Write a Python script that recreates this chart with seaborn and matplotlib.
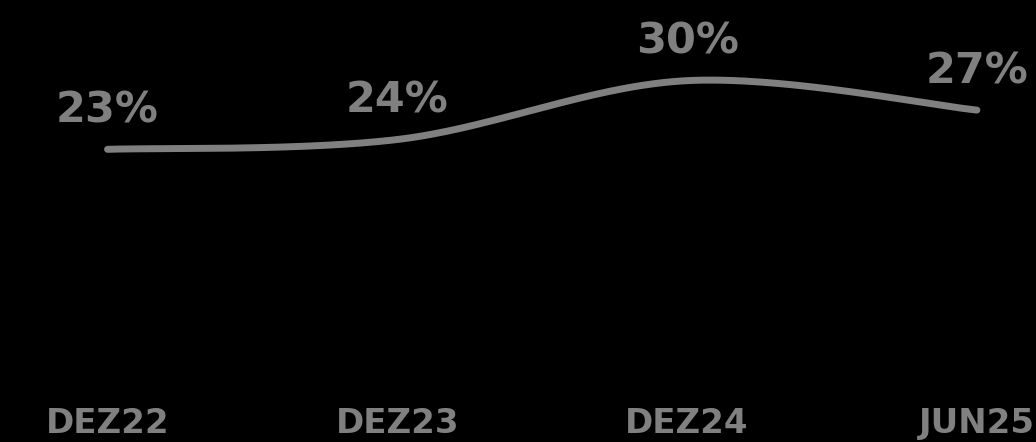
import numpy as np
import pandas as pd
import matplotlib
matplotlib.use('Agg')
import matplotlib.pyplot as plt
import seaborn as sns

periods = ['DEZ22', 'DEZ23', 'DEZ24', 'JUN25']
values = [23, 24, 30, 27]
value_labels = ['23%', '24%', '30%', '27%']

grey = '#808080'

sns.set_theme(style='white', rc={'figure.facecolor': 'black',
                                 'axes.facecolor': 'black'})
plt.rcParams['font.family'] = ['DejaVu Sans']

fig = plt.figure(figsize=(10.36, 4.42), dpi=100)
ax = fig.add_axes([0, 37 / 442, 1, 405 / 442])


def smooth_curve(xs, ys, n=60):
    # excel-style smoothed line: catmull-rom segments drawn as cubic beziers
    pts = np.column_stack([xs, ys]).astype(float)
    padded = np.vstack([pts[0], pts, pts[-1]])
    out = []
    t = np.linspace(0, 1, n)[:, None]
    for i in range(len(pts) - 1):
        p0, p1, p2, p3 = padded[i], padded[i + 1], padded[i + 2], padded[i + 3]
        c1 = p1 + (p2 - p0) / 6
        c2 = p2 - (p3 - p1) / 6
        seg = ((1 - t) ** 3 * p1 + 3 * (1 - t) ** 2 * t * c1
               + 3 * (1 - t) * t ** 2 * c2 + t ** 3 * p2)
        out.append(seg if i == 0 else seg[1:])
    return np.vstack(out)


xpos = np.arange(len(periods))
curve = smooth_curve(xpos, values)
df = pd.DataFrame({'x': curve[:, 0], 'y': curve[:, 1]})
sns.lineplot(data=df, x='x', y='y', sort=False, estimator=None, ax=ax,
             color=grey, linewidth=5, solid_capstyle='round')

for x, v, lab in zip(xpos, values, value_labels):
    ax.annotate(lab, (x, v), xytext=(0, 19.4), textcoords='offset points',
                ha='center', va='baseline', fontsize=31, fontweight='bold',
                color=grey)

ax.set_xlim(-0.371, 3.204)
ax.set_ylim(-3.06, 38.22)
ax.set_xticks(xpos)
ax.set_xticklabels(periods, fontsize=24.5, fontweight='bold', color=grey)
ax.tick_params(axis='x', length=0, pad=1.5)
ax.set_yticks([])
ax.set_xlabel('')
ax.set_ylabel('')
sns.despine(ax=ax, left=True, bottom=True)

fig.savefig('out.png', dpi=100, facecolor='black')
